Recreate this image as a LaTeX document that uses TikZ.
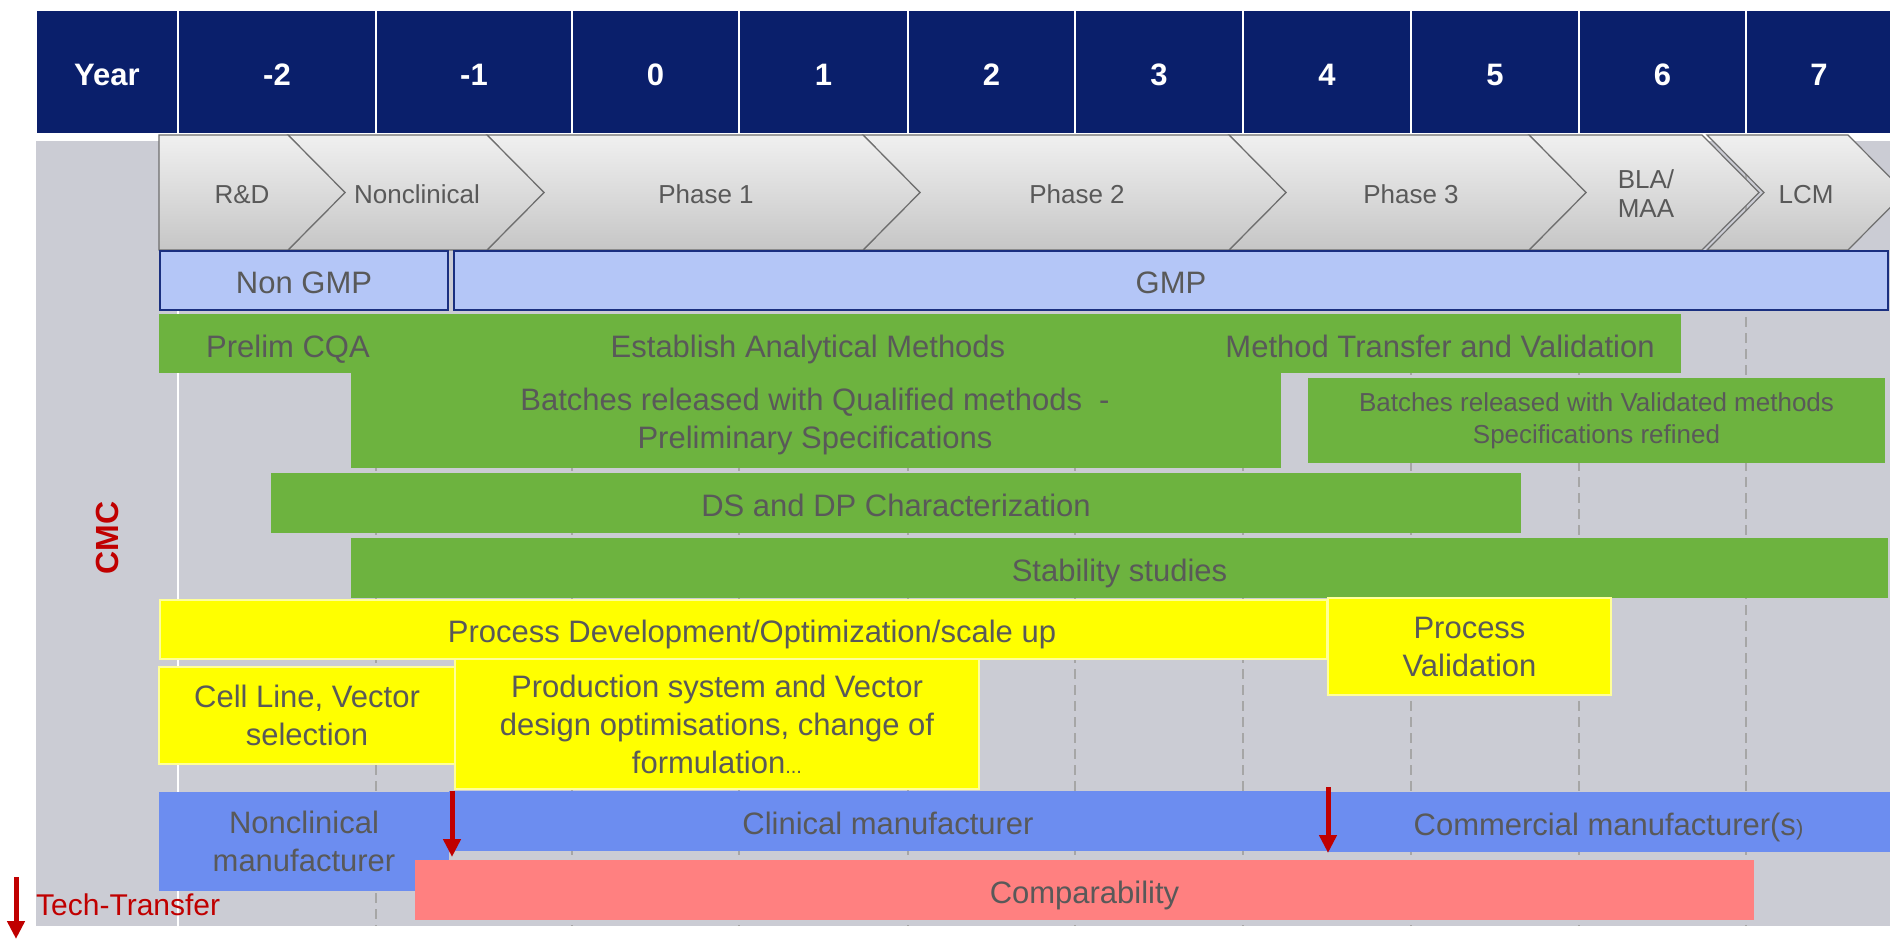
\documentclass[tikz,border=0pt]{standalone}
\usepackage{fontspec}
\setmainfont{Liberation Sans}
\usetikzlibrary{arrows.meta}
\definecolor{navy}{HTML}{0A1F6B}
\definecolor{bggray}{HTML}{CBCCD4}
\definecolor{gmpfill}{HTML}{B4C6F7}
\definecolor{gmpline}{HTML}{1A2F80}
\definecolor{cgreen}{HTML}{6DB33F}
\definecolor{cyellow}{HTML}{FFFF00}
\definecolor{cyelline}{HTML}{FFFF99}
\definecolor{cblue}{HTML}{6C8DF0}
\definecolor{csalmon}{HTML}{FF8080}
\definecolor{cred}{HTML}{C00000}
\definecolor{txtgray}{HTML}{595959}
\definecolor{dashgray}{HTML}{A6A6A6}
\definecolor{chevtop}{HTML}{F0F0F0}
\definecolor{chevbot}{HTML}{C6C6C6}
\definecolor{chevline}{HTML}{6E6E6E}
\newcommand\txtbig{\fontsize{31}{38}\selectfont}
\newcommand\txtmid{\fontsize{26}{32}\selectfont}
\newcommand\txtchev{\fontsize{26}{29}\selectfont}
\begin{document}
\begin{tikzpicture}[x=1pt,y=-1pt,
  oneline/.style={text height=30pt, text depth=3.4pt},
  onechev/.style={text height=25pt, text depth=5pt},
  hdr/.style={fill=navy, draw=white, line width=2pt, text=white, oneline,
    font=\fontsize{31}{36}\selectfont\bfseries, inner sep=0pt, outer sep=0pt, minimum height=124},
  box/.style={inner sep=0pt, outer sep=0pt, text=txtgray, align=center, font=\txtbig},
  gmpbox/.style={box, fill=gmpfill, draw=gmpline, line width=2pt, oneline},
  gbox/.style={box, fill=cgreen},
  ybox/.style={box, fill=cyellow, draw=cyelline, line width=1.5pt},
  bbox/.style={box, fill=cblue},
  sbox/.style={box, fill=csalmon},
  lbl/.style={inner sep=0pt, text=txtgray, align=center, font=\txtbig, oneline},
  chev/.style={top color=chevtop, bottom color=chevbot, draw=chevline, line width=1.2pt},
  chevlbl/.style={inner sep=0pt, text=txtgray, font=\txtchev},
  dashline/.style={draw=dashgray, line width=2pt, dash pattern=on 10pt off 6pt},
  ttarrow/.style={draw=cred, line width=5pt, -{Triangle[width=17pt,length=18pt]}}
]
\useasboundingbox (0,0) rectangle (1890,939);
\clip (0,0) rectangle (1890,939);
\fill[white] (0,0) rectangle (1890,939);

% gray background
\fill[bggray] (36,141) rectangle (1890,926);
\draw[white, line width=2pt] (178,141) -- (178,926);
\foreach \xx in {376,572,739,908,1075,1243,1411,1579,1746}
  \draw[dashline] (\xx,141) -- (\xx,926);

% header
\node[hdr, minimum width=142] (hyear) at (107,72) {Year};
\node[hdr, minimum width=198] (hm2) at (277,72) {-2};
\node[hdr, minimum width=196] (hm1) at (474,72) {-1};
\node[hdr, minimum width=167] (h0) at (655.5,72) {0};
\node[hdr, minimum width=169] (h1) at (823.5,72) {1};
\node[hdr, minimum width=167] (h2) at (991.5,72) {2};
\node[hdr, minimum width=168] (h3) at (1159,72) {3};
\node[hdr, minimum width=168] (h4) at (1327,72) {4};
\node[hdr, minimum width=168] (h5) at (1495,72) {5};
\node[hdr, minimum width=167] (h6) at (1662.5,72) {6};
\node[hdr, minimum width=146] (h7) at (1819,72) {7};

% chevrons
\shadedraw[chev] (1707,135) -- (1848,135) -- (1905,192.5) -- (1848,250) -- (1707,250) -- (1764,192.5) -- cycle;
\shadedraw[chev] (1529,135) -- (1702,135) -- (1759,192.5) -- (1702,250) -- (1529,250) -- (1586,192.5) -- cycle;
\shadedraw[chev] (1229,135) -- (1529,135) -- (1586,192.5) -- (1529,250) -- (1229,250) -- (1286,192.5) -- cycle;
\shadedraw[chev] (863,135) -- (1229,135) -- (1286,192.5) -- (1229,250) -- (863,250) -- (920,192.5) -- cycle;
\shadedraw[chev] (487,135) -- (863,135) -- (920,192.5) -- (863,250) -- (487,250) -- (544,192.5) -- cycle;
\shadedraw[chev] (288,135) -- (487,135) -- (544,192.5) -- (487,250) -- (288,250) -- (345,192.5) -- cycle;
\shadedraw[chev] (159,135) -- (288,135) -- (345,192.5) -- (288,250) -- (159,250) -- cycle;
\node[chevlbl, onechev] (crd) at (242,193) {R\&D};
\node[chevlbl, onechev] (cnc) at (417,193) {Nonclinical};
\node[chevlbl, onechev] (cp1) at (706,193) {Phase 1};
\node[chevlbl, onechev] (cp2) at (1077,193) {Phase 2};
\node[chevlbl, onechev] (cp3) at (1411,193) {Phase 3};
\node[chevlbl, align=left] (cbla) at (1646,194) {BLA/\\MAA};
\node[chevlbl, onechev] (clcm) at (1806,193) {LCM};

% GMP
\node[gmpbox, minimum width=288, minimum height=59] (ngmp) at (304,280.5) {Non GMP};
\node[gmpbox, minimum width=1434, minimum height=59] (gmp) at (1171,280.5) {GMP};

% green bars
\node[gbox, minimum width=1522, minimum height=59] (g1) at (920,343.5) {};
\node[lbl] (prelim) at (288,344) {Prelim CQA};
\node[lbl] (estab) at (808,344) {Establish Analytical Methods};
\node[lbl] (mtv) at (1440,344) {Method Transfer and Validation};
\node[gbox, minimum width=930, minimum height=95] (g2) at (816,420.5) {};
\node[lbl, text height=, text depth=] (g2lbl) at (815,421.5)
  {Batches released with Qualified methods~ -\\Preliminary Specifications};
\node[gbox, minimum width=577, minimum height=85, font=\txtmid] (g3) at (1596.5,420.5)
  {Batches released with Validated methods\\Specifications refined};
\node[gbox, minimum width=1250, minimum height=60, oneline] (g4) at (896,503) {DS and DP Characterization};
\node[gbox, minimum width=1537, minimum height=60, oneline] (g5) at (1119.5,568) {Stability studies};

% yellow boxes
\node[ybox, minimum width=1167, minimum height=59] (y1) at (743.5,629.5) {};
\node[lbl] (pdlbl) at (752,629) {Process Development/Optimization/scale up};
\node[ybox, minimum width=283, minimum height=97] (y2) at (1469.5,646.5) {Process\\Validation};
\node[ybox, minimum width=296, minimum height=97] (y3) at (307,715.5) {Cell Line, Vector\\selection};
\node[ybox, minimum width=524, minimum height=130] (y4) at (717,724)
  {Production system and Vector\\design optimisations, change of\\formulation{\fontsize{20}{20}\selectfont...}};

% manufacturers
\node[bbox, minimum width=290, minimum height=99] (b1) at (304,841.5) {Nonclinical\\manufacturer};
\node[bbox, minimum width=878, minimum height=60, oneline] (b2) at (888,821) {Clinical manufacturer};
\node[bbox, minimum width=563, minimum height=60, oneline] (b3) at (1608.5,822)
  {Commercial manufacturer(s{\fontsize{22}{22}\selectfont)}};
\node[sbox, minimum width=1339, minimum height=60, oneline] (s1) at (1084.5,890) {Comparability};

% tech-transfer arrows
\coordinate (a1s) at (452,791);
\coordinate (a1e) at (452,857);
\coordinate (a2s) at (1328,787);
\coordinate (a2e) at (1328,853);
\coordinate (a3s) at (16,877);
\coordinate (a3e) at (16,939);
\draw[ttarrow] (a1s) -- (a1e);
\draw[ttarrow] (a2s) -- (a2e);
\draw[ttarrow] (a3s) -- (a3e);
\node[anchor=west, inner sep=0pt, text=cred, font=\fontsize{30}{33}\selectfont] (tt) at (36,905) {Tech-Transfer};

% CMC
\node[rotate=90, inner sep=0pt, text=cred, font=\fontsize{32}{36}\selectfont\bfseries] (cmc) at (107,538) {CMC};
\end{tikzpicture}
\end{document}
